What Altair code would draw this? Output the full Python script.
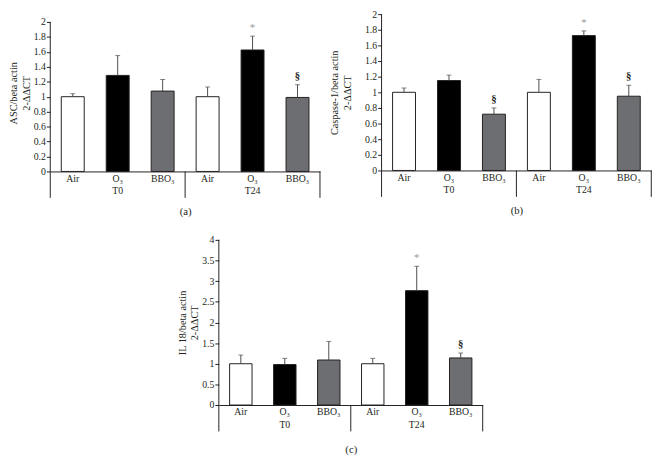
import altair as alt
import pandas as pd

# ---------------- data ----------------
treatments = ["Air", "O₃", "BBO₃", "Air", "O₃", "BBO₃"]
times = ["T0", "T0", "T0", "T24", "T24", "T24"]

asc_mean = [1.00, 1.285, 1.075, 1.00, 1.625, 0.99]
asc_err = [0.04, 0.265, 0.155, 0.13, 0.185, 0.17]
asc_mark = ["", "", "", "", "*", "§"]

casp_mean = [1.00, 1.15, 0.72, 1.00, 1.725, 0.95]
casp_err = [0.055, 0.07, 0.08, 0.165, 0.06, 0.14]
casp_mark = ["", "", "§", "", "*", "§"]

il18_mean = [1.00, 0.98, 1.09, 1.00, 2.77, 1.14]
il18_err = [0.21, 0.15, 0.45, 0.13, 0.59, 0.12]
il18_mark = ["", "", "", "", "*", "§"]

ticks_2 = [0, 0.2, 0.4, 0.6, 0.8, 1, 1.2, 1.4, 1.6, 1.8, 2]
ticks_4 = [0, 0.5, 1, 1.5, 2, 2.5, 3, 3.5, 4]

fill_domain = ["Air", "O₃", "BBO₃"]
fill_range = ["#ffffff", "#000000", "#6d6e71"]

keys = [f"{t}|{g}" for t, g in zip(treatments, times)]

FONT = "Liberation Serif"
INK = "#231f20"

LABEL_EXPR = ("split(datum.label, '|')[0] == 'O₃' ? "
              "[split(datum.label, '|')[0], split(datum.label, '|')[1]] : "
              "split(datum.label, '|')[0]")


def panel(mean, err, marks, ytitle, axis_max, dom_max, yvals, w, h, label,
          ytitle_pad=2, ytitle_lh=13, xtitle_pad=10):
    df = pd.DataFrame({
        "key": keys,
        "treat": treatments,
        "time": times,
        "mean": mean,
        "top": [m + e for m, e in zip(mean, err)],
        "mark": marks,
    })
    xscale = alt.Scale(domain=keys, paddingInner=0, paddingOuter=0)
    x = alt.X("key:N", sort=keys, scale=xscale,
              axis=alt.Axis(title=label, labelExpr=LABEL_EXPR, labelAngle=0,
                            ticks=False, labelPadding=2, labelLineHeight=13,
                            labelFontSize=10, titleFontSize=11,
                            titlePadding=xtitle_pad, labelColor=INK,
                            titleColor=INK, labelBaseline="top"))
    yscale = alt.Scale(domain=[0, dom_max], nice=False)
    base = alt.Chart(df)
    bars = base.mark_bar(width=alt.RelativeBandSize(0.51), stroke=INK,
                         strokeWidth=1).encode(
        x=x,
        y=alt.Y("mean:Q", scale=yscale,
                axis=alt.Axis(values=yvals, tickCount=len(yvals) + 2,
                              format="~g", title=ytitle, domain=False,
                              grid=False, tickSize=4, labelFontSize=10,
                              titleFontSize=10.5, titlePadding=ytitle_pad,
                              titleLineHeight=ytitle_lh, labelPadding=1,
                              labelColor=INK, titleColor=INK)),
        fill=alt.Fill("treat:N", scale=alt.Scale(domain=fill_domain,
                                                 range=fill_range),
                      legend=None),
    )
    xs = alt.X("key:N", sort=keys, scale=xscale)
    errbar = base.mark_rule(color="#4d4d4d", strokeWidth=1).encode(
        x=xs, y=alt.Y("mean:Q", scale=yscale), y2="top:Q")
    cap = base.mark_tick(size=5, thickness=1, color="#4d4d4d",
                         orient="horizontal").encode(
        x=xs, y=alt.Y("top:Q", scale=yscale))
    star = base.transform_filter("datum.mark == '*'").mark_text(
        baseline="bottom", dy=-3, fontSize=11, color="#9a9a9a",
        font=FONT).encode(x=xs, y=alt.Y("top:Q", scale=yscale),
                          text="mark:N")
    sect = base.transform_filter("datum.mark == '§'").mark_text(
        baseline="bottom", dy=-4, fontSize=11, fontWeight="bold",
        color=INK, font=FONT).encode(x=xs, y=alt.Y("top:Q", scale=yscale),
                                     text="mark:N")
    # y-axis line from 0 to the top tick
    ax_df = pd.DataFrame({"lo": [0], "hi": [axis_max]})
    yline = alt.Chart(ax_df).mark_rule(color=INK, strokeWidth=1).encode(
        x=alt.value(0), y=alt.Y("lo:Q", scale=yscale), y2="hi:Q")
    # group separators below the x axis
    sep_df = pd.DataFrame({"key": [keys[0], keys[3]]})
    end_df = pd.DataFrame({"key": [keys[5]]})
    sep = alt.Chart(sep_df).mark_rule(color=INK, strokeWidth=1).encode(
        x=alt.X("key:N", sort=keys, scale=xscale, bandPosition=0),
        y=alt.value(h), y2=alt.value(h + 27))
    end = alt.Chart(end_df).mark_rule(color=INK, strokeWidth=1).encode(
        x=alt.X("key:N", sort=keys, scale=xscale, bandPosition=1),
        y=alt.value(h), y2=alt.value(h + 27))
    return alt.layer(bars, errbar, cap, star, sect, yline, sep,
                     end).properties(width=w, height=h)


pa = panel(asc_mean, asc_err, asc_mark, ["ASC/beta actin", "2-ΔΔCT"],
           2, 2 * 161 / 153, ticks_2, 276, 161, "(a)")
pb = panel(casp_mean, casp_err, casp_mark,
           ["Caspase-1/beta actin", "2-ΔΔCT"], 2, 2, ticks_2, 276, 160,
           "(b)", ytitle_pad=12, ytitle_lh=14)
pc = panel(il18_mean, il18_err, il18_mark, ["IL 18/beta actin", "2-ΔΔCT"],
           4, 4, ticks_4, 270, 169, "(c)", xtitle_pad=15)

top = alt.hconcat(pa, pb, spacing=8)
chart = alt.vconcat(top, pc, spacing=19, center=True).properties(
    padding={"left": 0, "top": -4, "right": 0, "bottom": 0}
).configure(font=FONT).configure_view(stroke=None).configure_axis(
    domainColor=INK, tickColor=INK, labelFont=FONT, titleFont=FONT,
    titleFontWeight="normal")

chart.save("out.html", embed_options={"renderer": "svg", "actions": False})
